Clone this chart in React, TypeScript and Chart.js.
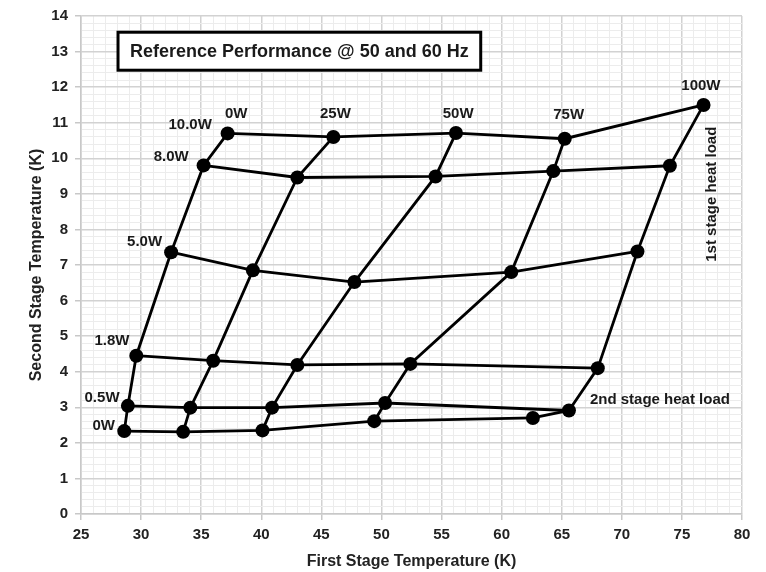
import React, { useEffect, useRef } from "react";
import { Chart, registerables } from "chart.js";

Chart.register(...registerables);

// Capacity map: 2nd stage heat load rows x 1st stage heat load columns
const firstStageLoads = ["0W", "25W", "50W", "75W", "100W"];
const secondStageLoads = ["0W", "0.5W", "1.8W", "5.0W", "8.0W", "10.0W"];

// First stage temperature (K) for each 2nd-stage-load row, across 1st-stage loads
const t1Row0W = [28.6, 33.5, 40.1, 49.4, 62.6];
const t1Row05W = [28.9, 34.1, 40.9, 50.3, 65.6];
const t1Row18W = [29.6, 36.0, 43.0, 52.4, 68.0];
const t1Row50W = [32.5, 39.3, 47.75, 60.8, 71.3];
const t1Row80W = [35.2, 43.0, 54.5, 64.3, 74.0];
const t1Row100W = [37.2, 46.0, 56.2, 65.25, 76.8];

// Second stage temperature (K) for each row
const t2Row0W = [2.33, 2.31, 2.35, 2.61, 2.7];
const t2Row05W = [3.04, 2.99, 2.99, 3.12, 2.91];
const t2Row18W = [4.45, 4.31, 4.19, 4.22, 4.1];
const t2Row50W = [7.36, 6.85, 6.52, 6.8, 7.38];
const t2Row80W = [9.8, 9.46, 9.49, 9.64, 9.79];
const t2Row100W = [10.7, 10.6, 10.71, 10.55, 11.5];

const xTicks = [25, 30, 35, 40, 45, 50, 55, 60, 65, 70, 75, 80];
const yTicks = [0, 1, 2, 3, 4, 5, 6, 7, 8, 9, 10, 11, 12, 13, 14];

const chartTitle = "Reference Performance @ 50 and 60 Hz";
const xTitle = "First Stage Temperature (K)";
const yTitle = "Second Stage Temperature (K)";

const t1Rows = [t1Row0W, t1Row05W, t1Row18W, t1Row50W, t1Row80W, t1Row100W];
const t2Rows = [t2Row0W, t2Row05W, t2Row18W, t2Row50W, t2Row80W, t2Row100W];

// Annotation anchors (data coordinates)
const rowLabelAnchors = [
  [26.89, 2.47],
  [26.75, 3.26],
  [27.58, 4.88],
  [30.29, 7.66],
  [32.5, 10.04],
  [34.08, 10.94],
];
const colLabelAnchors = [
  [37.92, 11.25],
  [46.17, 11.24],
  [56.38, 11.24],
  [65.58, 11.21],
  [76.58, 12.04],
];
const sideLabels = [
  { text: "2nd stage heat load", x: 73.17, y: 3.22, rot: 0 },
  { text: "1st stage heat load", x: 77.5, y: 8.99, rot: -Math.PI / 2 },
];
const titleAnchor = [43.17, 13.01];

const FONT = "'Liberation Sans', Arial, sans-serif";

const annotationPlugin = {
  id: "annotations",
  afterDatasetsDraw(chart: any) {
    const { ctx, scales } = chart;
    const xs = scales.x;
    const ys = scales.y;
    ctx.save();
    ctx.fillStyle = "#1a1a1a";
    ctx.font = `bold 15px ${FONT}`;
    ctx.textAlign = "center";
    ctx.textBaseline = "middle";
    secondStageLoads.forEach((lab, i) => {
      const [x, y] = rowLabelAnchors[i];
      ctx.fillText(lab, xs.getPixelForValue(x), ys.getPixelForValue(y));
    });
    firstStageLoads.forEach((lab, i) => {
      const [x, y] = colLabelAnchors[i];
      ctx.fillText(lab, xs.getPixelForValue(x), ys.getPixelForValue(y));
    });
    sideLabels.forEach((s) => {
      ctx.save();
      ctx.translate(xs.getPixelForValue(s.x), ys.getPixelForValue(s.y));
      ctx.rotate(s.rot);
      ctx.fillText(s.text, 0, 0);
      ctx.restore();
    });
    // title box
    const cx = xs.getPixelForValue(titleAnchor[0]);
    const cy = ys.getPixelForValue(titleAnchor[1]);
    ctx.font = `bold 18px ${FONT}`;
    const w = ctx.measureText(chartTitle).width + 24;
    const h = 38;
    ctx.fillStyle = "#ffffff";
    ctx.fillRect(cx - w / 2, cy - h / 2, w, h);
    ctx.lineWidth = 3;
    ctx.strokeStyle = "#000000";
    ctx.strokeRect(cx - w / 2, cy - h / 2, w, h);
    ctx.fillStyle = "#1a1a1a";
    ctx.fillText(chartTitle, cx, cy + 1);
    ctx.restore();
  },
};

export default function App() {
  const ref = useRef<HTMLCanvasElement | null>(null);

  useEffect(() => {
    if (!ref.current) return;
    const rowSets = t1Rows.map((xsArr, i) => ({
      label: "2nd " + secondStageLoads[i],
      data: xsArr.map((x, j) => ({ x, y: t2Rows[i][j] })),
      showLine: true,
      borderColor: "#000",
      backgroundColor: "#000",
      borderWidth: 2.8,
      pointRadius: 7,
      pointBackgroundColor: "#000",
      pointBorderWidth: 0,
    }));
    const colSets = firstStageLoads.map((lab, j) => ({
      label: "1st " + lab,
      data: t1Rows.map((row, i) => ({ x: row[j], y: t2Rows[i][j] })),
      showLine: true,
      borderColor: "#000",
      backgroundColor: "#000",
      borderWidth: 2.8,
      pointRadius: 0,
    }));

    const isMajor = (v: number, arr: number[]) => arr.some((t) => Math.abs(t - v) < 1e-6);

    const chart = new Chart(ref.current, {
      type: "scatter",
      data: { datasets: [...rowSets, ...colSets] as any },
      options: {
        animation: false,
        responsive: false,
        layout: { padding: { left: 0, top: 13, right: 24, bottom: 0 } },
        plugins: { legend: { display: false }, tooltip: { enabled: false } },
        scales: {
          x: {
            type: "linear",
            min: xTicks[0],
            max: xTicks[xTicks.length - 1],
            afterFit: (s: any) => {
              s.height = 58;
            },
            ticks: {
              stepSize: 1,
              autoSkip: false,
              maxRotation: 0,
              padding: 6,
              color: "#222",
              font: { family: FONT, size: 15, weight: "bold" },
              callback: (v: any) => (isMajor(Number(v), xTicks) ? String(v) : ""),
            },
            grid: {
              color: (c: any) => (isMajor(c.tick.value, xTicks) ? "#d2d2d2" : "#ececec"),
              lineWidth: (c: any) => (isMajor(c.tick.value, xTicks) ? 1.5 : 1),
              tickColor: (c: any) => (isMajor(c.tick.value, xTicks) ? "#c8c8c8" : "rgba(0,0,0,0)"),
              tickLength: 6,
            },
            border: { display: true, color: "#c8c8c8", width: 1.5 },
            title: {
              display: true,
              text: xTitle,
              color: "#222",
              font: { family: FONT, size: 16, weight: "bold" },
              padding: { top: 0, bottom: 1 },
            },
          },
          y: {
            type: "linear",
            min: yTicks[0],
            max: yTicks[yTicks.length - 1],
            afterFit: (s: any) => {
              s.width = 81;
            },
            ticks: {
              stepSize: 0.2,
              autoSkip: false,
              padding: 7,
              color: "#222",
              font: { family: FONT, size: 15, weight: "bold" },
              callback: (v: any) => (isMajor(Number(v), yTicks) ? String(Math.round(Number(v))) : ""),
            },
            grid: {
              color: (c: any) => (isMajor(c.tick.value, yTicks) ? "#d2d2d2" : "#ececec"),
              lineWidth: (c: any) => (isMajor(c.tick.value, yTicks) ? 1.5 : 1),
              tickColor: (c: any) => (isMajor(c.tick.value, yTicks) ? "#c8c8c8" : "rgba(0,0,0,0)"),
              tickLength: 6,
            },
            border: { display: true, color: "#c8c8c8", width: 1.5 },
            title: {
              display: true,
              text: yTitle,
              color: "#222",
              font: { family: FONT, size: 16, weight: "bold" },
              padding: { top: 27, bottom: 0 },
            },
          },
        },
      },
      plugins: [annotationPlugin],
    });
    return () => chart.destroy();
  }, []);

  return (
    <div style={{ position: "absolute", left: 0, top: 0, width: 766, height: 572, background: "#fff" }}>
      <canvas ref={ref} width={766} height={572} />
    </div>
  );
}
